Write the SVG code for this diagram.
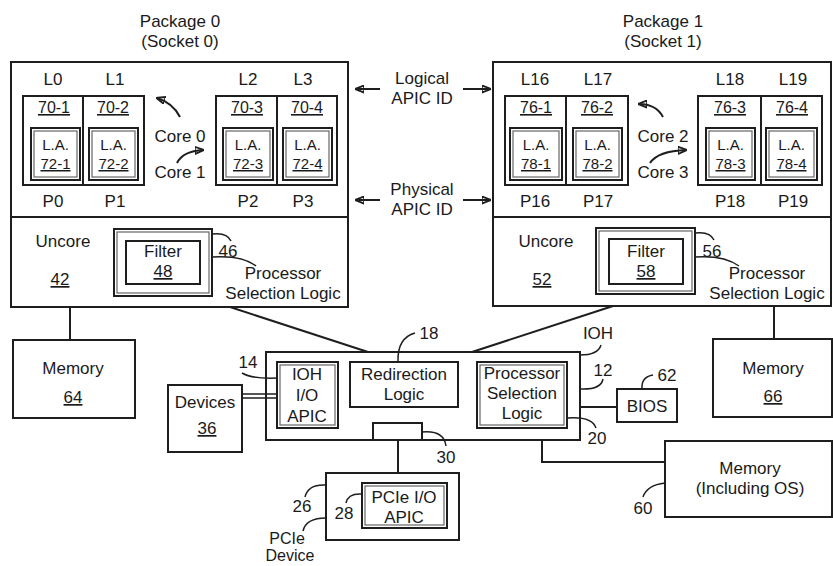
<svg xmlns="http://www.w3.org/2000/svg" width="833" height="566" viewBox="0 0 833 566">
<defs>
<marker id="ah" viewBox="0 0 10 10" refX="9" refY="5" markerWidth="9" markerHeight="9" markerUnits="userSpaceOnUse" orient="auto">
<path d="M0,1 L10,5 L0,9 z" fill="#1a1a1a"/>
</marker>
</defs>
<style>
rect{fill:none;stroke:#1e1e1e;stroke-width:2}
line,path{stroke:#1e1e1e;stroke-width:2;fill:none}
.in{stroke:#666;stroke-width:1.2}
.ld{stroke-width:1.5}
text{font-family:"Liberation Sans",Arial,sans-serif;font-size:17px;fill:#1a1a1a;text-anchor:middle}
.n{font-size:16px}
.s{font-size:15px}
.u{text-decoration:underline}
</style>
<rect x="0" y="0" width="833" height="566" style="fill:#fff;stroke:none"/>

<g id="package0">
<text x="180" y="27">Package 0</text>
<text x="180" y="47">(Socket 0)</text>
<rect x="11" y="62" width="337" height="245"/>
<line x1="11" y1="217" x2="348" y2="217"/>
</g>
<g id="cores01">
<rect x="23" y="96" width="121" height="89"/>
<line x1="83" y1="96" x2="83" y2="185"/>
<text x="53" y="85">L0</text><text x="115" y="85">L1</text>
<text x="53" y="207">P0</text><text x="115" y="207">P1</text>
<text class="n u" x="54" y="113">70-1</text><text class="n u" x="113" y="113">70-2</text>
<rect x="31" y="128" width="49" height="52"/><rect class="in" x="34" y="131" width="43" height="46"/>
<rect x="89" y="128" width="49" height="52"/><rect class="in" x="92" y="131" width="43" height="46"/>
<text class="s" x="55.5" y="150">L.A.</text><text class="s u" x="55.5" y="169">72-1</text>
<text class="s" x="113.5" y="150">L.A.</text><text class="s u" x="113.5" y="169">72-2</text>
</g>
<g id="cores23">
<rect x="216" y="96" width="121" height="89"/>
<line x1="277" y1="96" x2="277" y2="185"/>
<text x="248" y="85">L2</text><text x="303" y="85">L3</text>
<text x="248" y="207">P2</text><text x="303" y="207">P3</text>
<text class="n u" x="247" y="113">70-3</text><text class="n u" x="307" y="113">70-4</text>
<rect x="223" y="128" width="50" height="52"/><rect class="in" x="226" y="131" width="44" height="46"/>
<rect x="283" y="128" width="49" height="52"/><rect class="in" x="286" y="131" width="43" height="46"/>
<text class="s" x="248" y="150">L.A.</text><text class="s u" x="248" y="169">72-3</text>
<text class="s" x="307.5" y="150">L.A.</text><text class="s u" x="307.5" y="169">72-4</text>
</g>
<g id="corelabels0">
<text x="180" y="142">Core 0</text>
<text x="180" y="178">Core 1</text>
</g>

<g id="package1">
<text x="663" y="27">Package 1</text>
<text x="663" y="47">(Socket 1)</text>
<rect x="493" y="62" width="338" height="244"/>
<line x1="493" y1="217" x2="831" y2="217"/>
</g>
<g id="cores1617">
<rect x="505" y="96" width="123" height="89"/>
<line x1="566" y1="96" x2="566" y2="185"/>
<text x="535" y="85">L16</text><text x="598" y="85">L17</text>
<text x="535" y="207">P16</text><text x="598" y="207">P17</text>
<text class="n u" x="536" y="113">76-1</text><text class="n u" x="597" y="113">76-2</text>
<rect x="510" y="128" width="52" height="52"/><rect class="in" x="513" y="131" width="46" height="46"/>
<rect x="573" y="128" width="49" height="52"/><rect class="in" x="576" y="131" width="43" height="46"/>
<text class="s" x="536" y="150">L.A.</text><text class="s u" x="536" y="169">78-1</text>
<text class="s" x="597.5" y="150">L.A.</text><text class="s u" x="597.5" y="169">78-2</text>
</g>
<g id="cores1819">
<rect x="698" y="96" width="124" height="89"/>
<line x1="761" y1="96" x2="761" y2="185"/>
<text x="730" y="85">L18</text><text x="793" y="85">L19</text>
<text x="730" y="207">P18</text><text x="793" y="207">P19</text>
<text class="n u" x="730" y="113">76-3</text><text class="n u" x="792" y="113">76-4</text>
<rect x="706" y="128" width="49" height="52"/><rect class="in" x="709" y="131" width="43" height="46"/>
<rect x="766" y="128" width="51" height="52"/><rect class="in" x="769" y="131" width="45" height="46"/>
<text class="s" x="730.5" y="150">L.A.</text><text class="s u" x="730.5" y="169">78-3</text>
<text class="s" x="791.5" y="150">L.A.</text><text class="s u" x="791.5" y="169">78-4</text>
</g>
<g id="corelabels1">
<text x="663" y="142">Core 2</text>
<text x="663" y="178">Core 3</text>
</g>

<g id="apicids">
<text x="422" y="84">Logical</text>
<text x="422" y="104">APIC ID</text>
<text x="422" y="195">Physical</text>
<text x="422" y="215">APIC ID</text>
</g>

<g id="uncore0">
<text x="63" y="247">Uncore</text>
<text class="u" x="60" y="285">42</text>
</g>
<g id="psl46">
<rect x="114" y="229" width="98" height="67"/><rect class="in" x="117" y="232" width="92" height="61"/>
<text x="228" y="257">46</text>
<text x="283" y="279">Processor</text>
<text x="283" y="299">Selection Logic</text>
</g>
<g id="filter48">
<rect x="126" y="241" width="74" height="43"/>
<text x="163" y="257">Filter</text>
<text class="u" x="163" y="277">48</text>
</g>

<g id="uncore1">
<text x="546" y="247">Uncore</text>
<text class="u" x="542" y="285">52</text>
</g>
<g id="psl56">
<rect x="596" y="228" width="99" height="66"/><rect class="in" x="599" y="231" width="93" height="60"/>
<text x="712" y="257">56</text>
<text x="767" y="279">Processor</text>
<text x="767" y="299">Selection Logic</text>
</g>
<g id="filter58">
<rect x="609" y="239" width="74" height="45"/>
<text x="646" y="257">Filter</text>
<text class="u" x="646" y="277">58</text>
</g>

<g id="memory64">
<rect x="13" y="340" width="122" height="78"/>
<text x="73" y="374">Memory</text>
<text class="u" x="73" y="403">64</text>
</g>
<g id="memory66">
<rect x="713" y="339" width="119" height="78"/>
<text x="773" y="374">Memory</text>
<text class="u" x="773" y="402">66</text>
</g>

<g id="ioh">
<rect x="266" y="352" width="314" height="88"/>
<text x="598" y="339">IOH</text>
<text x="603" y="376">12</text>
</g>
<g id="iohioapic">
<rect x="277" y="362" width="61" height="66"/><rect class="in" x="280" y="365" width="55" height="60"/>
<text x="307" y="380">IOH</text>
<text x="307" y="401">I/O</text>
<text x="307" y="422">APIC</text>
<text x="248" y="368">14</text>
</g>
<g id="redirection">
<rect x="350" y="362" width="108" height="45"/>
<text x="404" y="380">Redirection</text>
<text x="404" y="400">Logic</text>
<text x="429" y="339">18</text>
</g>
<g id="psl20">
<rect x="477" y="362" width="90" height="66"/><rect class="in" x="480" y="365" width="84" height="60"/>
<text x="522" y="379">Processor</text>
<text x="522" y="399">Selection</text>
<text x="522" y="419">Logic</text>
<text x="597" y="444">20</text>
</g>
<g id="port30">
<rect x="373" y="423" width="49" height="17"/>
<text x="446" y="463">30</text>
</g>
<g id="bios">
<rect x="617" y="389" width="60" height="33"/>
<text x="647" y="412">BIOS</text>
<text x="667" y="381">62</text>
</g>
<g id="devices">
<rect x="168" y="385" width="74" height="67"/>
<text x="205" y="408">Devices</text>
<text class="u" x="207" y="434">36</text>
</g>
<g id="memoryos">
<rect x="665" y="441" width="167" height="76"/>
<text x="750" y="474">Memory</text>
<text x="750" y="494">(Including OS)</text>
<text x="643" y="514">60</text>
</g>
<g id="pcie">
<rect x="326" y="473" width="133" height="67"/>
<text x="302" y="512">26</text>
<text class="n" x="287" y="544">PCIe</text>
<text class="n" x="290" y="561">Device</text>
</g>
<g id="pcieioapic">
<rect x="362" y="483" width="85" height="45"/><rect class="in" x="365" y="486" width="79" height="39"/>
<text x="404" y="503">PCIe I/O</text>
<text x="404" y="523">APIC</text>
<text x="344" y="519">28</text>
</g>

<g id="connectors">
<line x1="380" y1="89" x2="356" y2="89" marker-end="url(#ah)"/>
<line x1="463" y1="89" x2="490" y2="89" marker-end="url(#ah)"/>
<line x1="380" y1="200" x2="356" y2="200" marker-end="url(#ah)"/>
<line x1="463" y1="200" x2="490" y2="200" marker-end="url(#ah)"/>
<path d="M180,117 Q173,103 157,98" marker-end="url(#ah)"/>
<path d="M177,163 Q183,151 203,150" marker-end="url(#ah)"/>
<path d="M663,117 Q656,104 639,104" marker-end="url(#ah)"/>
<path d="M650,163 Q658,151 686,150" marker-end="url(#ah)"/>
<line x1="70" y1="307" x2="70" y2="340"/>
<line x1="774" y1="306" x2="774" y2="339"/>
<line x1="230" y1="307" x2="368" y2="352"/>
<line x1="613" y1="306" x2="472" y2="352"/>
<line x1="242" y1="394" x2="277" y2="394" class="ld"/>
<line x1="242" y1="398" x2="277" y2="398" class="ld"/>
<line x1="580" y1="407" x2="617" y2="407"/>
<path d="M542,440 L542,462 L665,462"/>
<line x1="398" y1="440" x2="398" y2="473"/>
<path class="ld" d="M212,234 Q227,232 231,241"/>
<path class="ld" d="M212,257 Q242,255 256,266"/>
<path class="ld" d="M695,233 Q710,231 714,240"/>
<path class="ld" d="M695,257 Q724,255 739,266"/>
<path class="ld" d="M398,362 Q397,338 415,333"/>
<path class="ld" d="M242,373 Q252,379 277,378"/>
<path class="ld" d="M580,355 Q598,355 601,345"/>
<path class="ld" d="M580,389 Q601,390 603,379"/>
<path class="ld" d="M642,389 Q641,377 653,375"/>
<path class="ld" d="M567,418 Q592,416 596,428"/>
<path class="ld" d="M422,432 Q444,430 446,446"/>
<path class="ld" d="M665,483 Q647,485 643,497"/>
<path class="ld" d="M326,485 Q308,484 305,497"/>
<path class="ld" d="M362,494 Q348,493 346,503"/>
<path class="ld" d="M326,518 Q306,518 303,531"/>
</g>
</svg>
